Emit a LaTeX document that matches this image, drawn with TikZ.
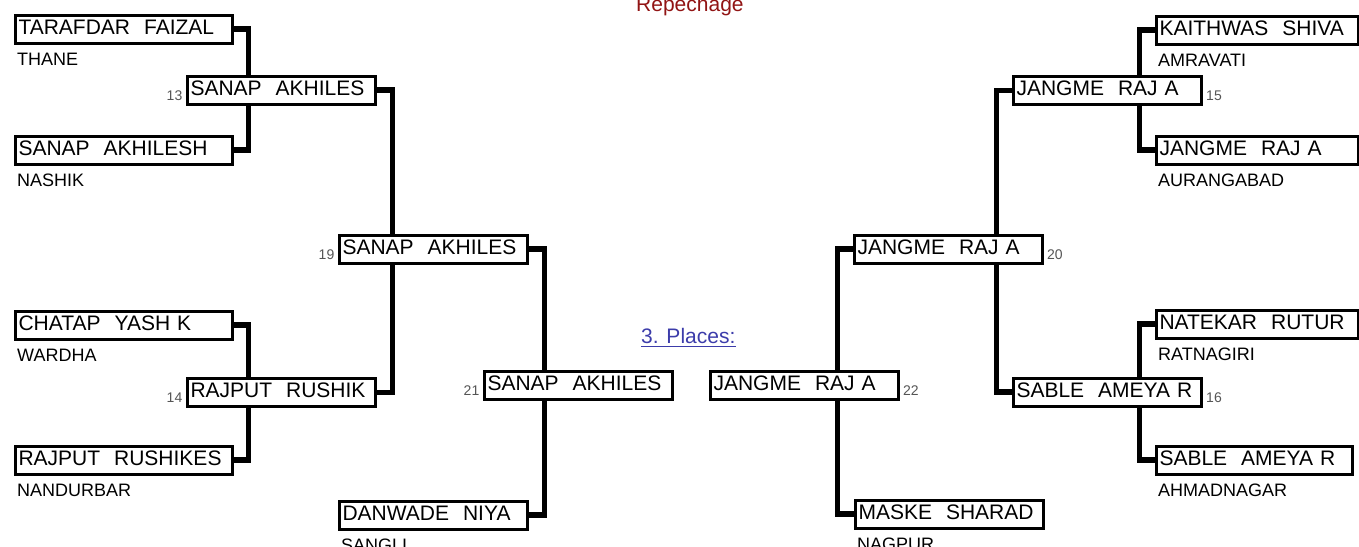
\documentclass[tikz,border=0pt]{standalone}
\usepackage{fontspec}
\setmainfont{Liberation Sans}
\usetikzlibrary{calc}

\definecolor{repred}{RGB}{145,20,20}
\definecolor{placeblue}{RGB}{60,60,170}
\definecolor{numgray}{RGB}{85,85,85}

\begin{document}
\begin{tikzpicture}[x=1pt,y=-1pt,
        box/.style={draw, line width=3pt, anchor=north west, inner xsep=3.5pt, inner ysep=0pt,
            minimum height=28pt, text height=15pt, text depth=5pt, align=left,
            font=\fontsize{21}{24}\selectfont},
        entrant/.style={box, text width=#1},
        entrant/.default=210pt,
        bout/.style={box, text width=181pt},
        region/.style={anchor=base west, inner sep=0pt, font=\fontsize{18}{20}\selectfont},
        numl/.style={anchor=base east, inner sep=0pt, text=numgray, font=\fontsize{14}{16}\selectfont},
        numr/.style={anchor=base west, inner sep=0pt, text=numgray, font=\fontsize{14}{16}\selectfont},
        link/.style={line width=5.5pt}]
        \useasboundingbox (0,0) rectangle (1359,546);

        \node[anchor=base west, inner sep=0pt, text=repred, font=\fontsize{21}{24}\selectfont] (rep) at (636,12) {Repechage};
        \node[anchor=base west, inner sep=0pt, text=placeblue, font=\fontsize{21}{24}\selectfont] (pl) at (641,343.5) {3. Places:};
        \draw[placeblue, line width=1.3pt] ([yshift=-3pt]pl.base west) -- ([yshift=-3pt]pl.base east);

        \node[entrant] (t1) at (13.5,13.5) {TARAFDAR\ \ FAIZAL};
        \node[entrant] (t2) at (13.5,134.5) {SANAP\ \ AKHILESH};
        \node[entrant] (t3) at (13.5,309.5) {CHATAP\ \ YASH K};
        \node[entrant] (t4) at (13.5,444.5) {RAJPUT\ \ RUSHIKES};
        \node[region] (r1) at ($(t1.south west)+(3.5,21)$) {THANE};
        \node[region] (r2) at ($(t2.south west)+(3.5,21)$) {NASHIK};
        \node[region] (r3) at ($(t3.south west)+(3.5,21)$) {WARDHA};
        \node[region] (r4) at ($(t4.south west)+(3.5,21)$) {NANDURBAR};

        \node[bout] (m13) at (185.5,74.5) {SANAP\ \ AKHILES};
        \node[bout] (m14) at (185.5,377) {RAJPUT\ \ RUSHIK};
        \node[bout] (m19) at (337.5,233.5) {SANAP\ \ AKHILES};
        \node[bout] (m21) at (482.5,369.5) {SANAP\ \ AKHILES};
        \node[bout] (dan) at (337.5,499.5) {DANWADE\ \ NIYA};
        \node[region] (r5) at ($(dan.south west)+(3.5,21)$) {SANGLI};
        \node[numl] (n13) at ($(m13.south west)+(-3,-5.5)$) {13};
        \node[numl] (n14) at ($(m14.south west)+(-3,-5.5)$) {14};
        \node[numl] (n19) at ($(m19.south west)+(-3,-5.5)$) {19};
        \node[numl] (n21) at ($(m21.south west)+(-3,-5.5)$) {21};

        \draw[link] (t1.east) -- ++(15,0) coordinate (j13) -- (j13 |- m13.north);
        \draw[link] (t2.east) -| (j13 |- m13.south);
        \draw[link] (t3.east) -- ++(15,0) coordinate (j14) -- (j14 |- m14.north);
        \draw[link] (t4.east) -| (j14 |- m14.south);
        \draw[link] (m13.east) -- ++(16,0) coordinate (j19) -- (j19 |- m19.north);
        \draw[link] (m14.east) -| (j19 |- m19.south);
        \draw[link] (m19.east) -- ++(16,0) coordinate (j21) -- (j21 |- m21.north);
        \draw[link] (j21 |- m21.south) |- (dan.east);

        \node[entrant=195pt] (k1) at (1154.5,14.5) {KAITHWAS\ \ SHIVA};
        \node[entrant=195pt] (k2) at (1154.5,134.5) {JANGME\ \ RAJ A};
        \node[entrant=195pt] (k3) at (1154.5,308.5) {NATEKAR\ \ RUTUR};
        \node[entrant=189pt] (k4) at (1154.5,444.5) {SABLE\ \ AMEYA R};
        \node[region] (r6) at ($(k1.south west)+(3.5,21)$) {AMRAVATI};
        \node[region] (r7) at ($(k2.south west)+(3.5,21)$) {AURANGABAD};
        \node[region] (r8) at ($(k3.south west)+(3.5,21)$) {RATNAGIRI};
        \node[region] (r9) at ($(k4.south west)+(3.5,21)$) {AHMADNAGAR};

        \node[bout] (m15) at (1011.5,75) {JANGME\ \ RAJ A};
        \node[bout] (m16) at (1011.5,376.5) {SABLE\ \ AMEYA R};
        \node[bout] (m20) at (852.5,233.5) {JANGME\ \ RAJ A};
        \node[bout] (m22) at (708.5,369.5) {JANGME\ \ RAJ A};
        \node[bout] (mask) at (853.5,498.5) {MASKE\ \ SHARAD};
        \node[region] (r10) at ($(mask.south west)+(3.5,21)$) {NAGPUR};
        \node[numr] (n15) at ($(m15.south east)+(3.5,-5.5)$) {15};
        \node[numr] (n16) at ($(m16.south east)+(3.5,-5.5)$) {16};
        \node[numr] (n20) at ($(m20.south east)+(3.5,-5.5)$) {20};
        \node[numr] (n22) at ($(m22.south east)+(3.5,-5.5)$) {22};

        \draw[link] (k1.west) -- ++(-15,0) coordinate (j15) -- (j15 |- m15.north);
        \draw[link] (k2.west) -| (j15 |- m15.south);
        \draw[link] (k3.west) -- ++(-15,0) coordinate (j16) -- (j16 |- m16.north);
        \draw[link] (k4.west) -| (j16 |- m16.south);
        \draw[link] (m15.west) -- ++(-15,0) coordinate (j20) -- (j20 |- m20.north);
        \draw[link] (m16.west) -| (j20 |- m20.south);
        \draw[link] (m20.west) -- ++(-15,0) coordinate (j22) -- (j22 |- m22.north);
        \draw[link] (j22 |- m22.south) |- (mask.west);
    \end{tikzpicture}
\end{document}
